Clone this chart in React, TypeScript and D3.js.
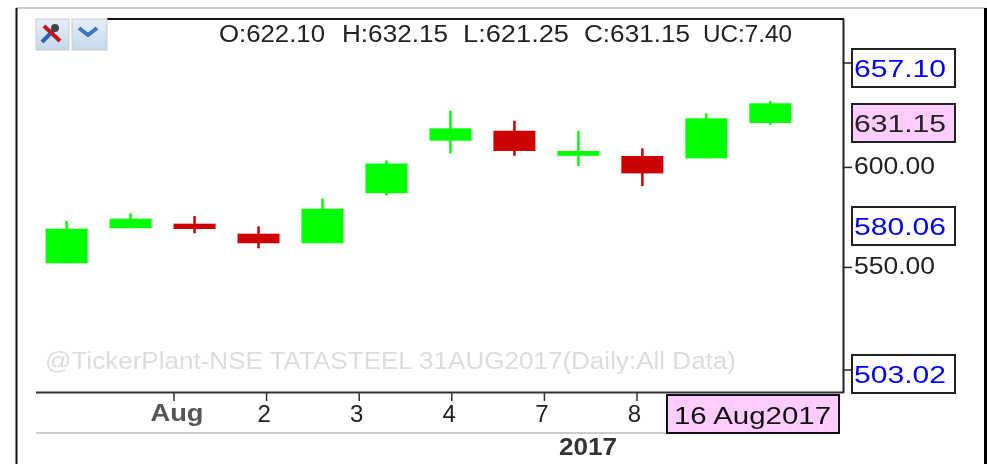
import React from "react";
import * as d3 from "d3";

const sessions = ["Jul 31a", "Jul 31b", "Aug 1a", "Aug 1b", "Aug 2a", "Aug 2b", "Aug 3a", "Aug 3b", "Aug 4a", "Aug 4b", "Aug 7a", "Aug 7b"];
const opens = [557.65, 573.75, 575.85, 571.25, 566.85, 589.85, 613.95, 618.55, 607.05, 606.95, 605.85, 622.1];
const highs = [577.1, 580.65, 579.4, 574.65, 587.35, 604.85, 627.75, 623.15, 618.55, 610.45, 626.55, 632.15];
const lows = [557.65, 573.75, 571.45, 564.55, 566.85, 588.75, 608.15, 607.05, 602.35, 593.15, 605.85, 621.25];
const closes = [573.55, 578.15, 573.4, 566.85, 582.75, 603.5, 619.65, 609.25, 609.25, 598.95, 624.25, 631.15];

const dateTicks = ["Aug", "2", "3", "4", "7", "8"];
const priceTicks = [600, 550];
const headerItems = ["O:622.10", "H:632.15", "L:621.25", "C:631.15", "UC:7.40"];
const headerX = [219, 342, 463, 584, 703];
const headerLen = [106, 106, 106, 106, 89];
const boxedPrices = ["657.10", "631.15", "580.06", "503.02"];
const boxedY = [49, 104, 207, 355];

const FONT = "'Liberation Sans', Arial, sans-serif";
const GREEN = "#00ff00";
const RED = "#cc0000";
const PINK = "#ffccff";

// candles run on a tighter scale than the printed log axis
const y = d3.scaleLinear().domain([631.15, 557.65]).range([103.3, 263.3]);
const axisY = d3.scaleLog().domain([503.02, 657.1]).range([370, 63]);
const x = d3.scalePoint<string>().domain(sessions).range([66.6, 770.3]);
const tickX = d3.scalePoint<string>().domain(dateTicks).range([174, 637]);

const BODY_W = 42;

export default function App() {
  return (
    <svg
      width={987}
      height={464}
      viewBox="0 0 987 464"
      style={{ position: "absolute", left: 0, top: 0, display: "block", background: "#fff", filter: "blur(0.5px)" }}
      fontFamily={FONT}
    >
      <defs>
        <linearGradient id="btn" x1="0" y1="0" x2="0" y2="1">
          <stop offset="0" stopColor="#e6eef6" />
          <stop offset="1" stopColor="#c4d8ec" />
        </linearGradient>
      </defs>

      {/* outer frame */}
      <line x1={16} x2={985} y1={8} y2={8} stroke="#bbb" strokeWidth={1.5} />
      <line x1={16.5} x2={16.5} y1={8} y2={464} stroke="#111" strokeWidth={2} />
      <line x1={985.5} x2={985.5} y1={8} y2={464} stroke="#000" strokeWidth={3} />

      {/* plot frame */}
      <line x1={107} x2={844} y1={19} y2={19} stroke="#111" strokeWidth={2} />
      <line x1={843.5} x2={843.5} y1={19} y2={393} stroke="#222" strokeWidth={2} />
      <line x1={36} x2={844} y1={392.5} y2={392.5} stroke="#333" strokeWidth={2} />
      <line x1={36} x2={667} y1={433} y2={433} stroke="#bbb" strokeWidth={1.5} />

      {/* toolbar */}
      <rect x={36} y={19} width={33} height={31} fill="url(#btn)" stroke="#ccc" />
      <rect x={72} y={19} width={35} height={31} fill="url(#btn)" stroke="#ccc" />
      <path d="M42 42 L55 29" stroke="#2a66c0" strokeWidth={4} />
      <path d="M44 26 L60 41" stroke="#c01818" strokeWidth={4} />
      <circle cx={55} cy={28} r={4} fill="#444" />
      <path d="M79 28 L88 35 L97 28" fill="none" stroke="#3a78b8" strokeWidth={4} />

      {/* header */}
      {headerItems.map((t, i) => (
        <text key={t} x={headerX[i]} y={42} fontSize={23} fill="#222" textLength={headerLen[i]} lengthAdjust="spacingAndGlyphs">
          {t}
        </text>
      ))}

      {/* candles */}
      {sessions.map((s, i) => {
        const color = closes[i] >= opens[i] ? GREEN : RED;
        const cx = x(s) as number;
        const top = y(Math.max(opens[i], closes[i]));
        const bottom = y(Math.min(opens[i], closes[i]));
        return (
          <g key={s}>
            <line x1={cx} x2={cx} y1={y(highs[i])} y2={y(lows[i])} stroke={color} strokeWidth={2.5} />
            <rect x={cx - BODY_W / 2} y={top} width={BODY_W} height={Math.max(bottom - top, 1)} fill={color} />
          </g>
        );
      })}

      {/* watermark */}
      <text x={45} y={369} fontSize={23} fill="#dcdcdc" textLength={691} lengthAdjust="spacingAndGlyphs">
        @TickerPlant-NSE TATASTEEL 31AUG2017(Daily:All Data)
      </text>

      {/* price axis */}
      {priceTicks.map((p) => (
        <g key={p}>
          <line x1={844} x2={852} y1={axisY(p)} y2={axisY(p)} stroke="#222" strokeWidth={1.5} />
          <text x={854} y={axisY(p) + 7} fontSize={24} fill="#222" textLength={81} lengthAdjust="spacingAndGlyphs">
            {d3.format(".2f")(p)}
          </text>
        </g>
      ))}
      {[657.1, 503.02].map((p) => (
        <line key={p} x1={844} x2={852} y1={axisY(p)} y2={axisY(p)} stroke="#222" strokeWidth={1.5} />
      ))}
      {boxedPrices.map((t, i) => {
        const current = t === "631.15";
        return (
          <g key={t}>
            <rect
              x={852}
              y={boxedY[i]}
              width={103}
              height={38}
              fill={current ? PINK : "#fff"}
              stroke="#222"
              strokeWidth={2}
            />
            <text
              x={854}
              y={boxedY[i] + 28}
              fontSize={24}
              fill={current ? "#222" : "#0000ff"}
              textLength={92}
              lengthAdjust="spacingAndGlyphs"
            >
              {t}
            </text>
          </g>
        );
      })}

      {/* date axis */}
      {dateTicks.map((d) => {
        const tx = tickX(d) as number;
        const bold = d === "Aug";
        return (
          <g key={d}>
            <line x1={tx} x2={tx} y1={393} y2={401} stroke="#333" strokeWidth={1.5} />
            <text
              x={bold ? tx + 3 : tx - 2.5}
              y={bold ? 421 : 422}
              fontSize={bold ? 24 : 24}
              fontWeight={bold ? "bold" : "normal"}
              fill={bold ? "#555" : "#222"}
              textAnchor="middle"
              textLength={bold ? 53 : undefined}
              lengthAdjust="spacingAndGlyphs"
            >
              {d}
            </text>
          </g>
        );
      })}
      <rect x={667} y={395} width={172} height={38} fill={PINK} stroke="#111" strokeWidth={2} />
      <text x={674} y={424} fontSize={23} fill="#111" textLength={157} lengthAdjust="spacingAndGlyphs">
        16 Aug2017
      </text>
      <text x={588} y={455} fontSize={24} fontWeight="bold" fill="#333" textAnchor="middle" textLength={58} lengthAdjust="spacingAndGlyphs">
        2017
      </text>
    </svg>
  );
}
